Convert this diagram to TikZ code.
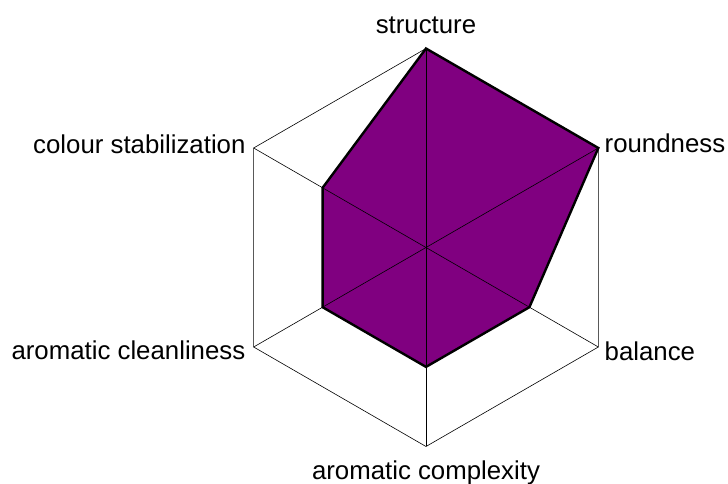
\documentclass[tikz,border=0pt]{standalone}
\usepackage{fontspec}
\setmainfont{Liberation Sans}
\definecolor{wine}{RGB}{128, 0, 128}
\usepackage{tikz}
\usetikzlibrary{calc}

\begin{document}
\begin{tikzpicture}[x=1bp, y=1bp,
    axislabel/.style={inner sep=0pt, font=\fontsize{25.8bp}{31bp}\selectfont},
    grid/.style={line width=0.6bp}]
    \useasboundingbox (-426,-236.5) rectangle (302,247.5);

    % Corners of the outer ring
    \coordinate (O) at (0,0);
    \coordinate (c1) at (90:199);
    \coordinate (c2) at (30:199);
    \coordinate (c3) at (-30:199);
    \coordinate (c4) at (-90:199);
    \coordinate (c5) at (-150:199);
    \coordinate (c6) at (150:199);

    % Scores
    \coordinate (v1) at (90:199);
    \coordinate (v2) at (30:199);
    \coordinate (v3) at (-30:119.4);
    \coordinate (v4) at (-90:119.4);
    \coordinate (v5) at (-150:119.4);
    \coordinate (v6) at (150:119.4);

    % Filled area
    \fill[wine] (v1) -- (v2) -- (v3) -- (v4) -- (v5) -- (v6) -- cycle;

    % Ring and spokes
    \draw[grid] (c1) -- (c2) -- (c3) -- (c4) -- (c5) -- (c6) -- cycle;
    \foreach \i in {1,...,6}
        \draw[grid] (O) -- (c\i);

    % Outline of the scores
    \draw[line width=2.4bp, line join=miter]
        (v1) -- (v2) -- (v3) -- (v4) -- (v5) -- (v6) -- cycle;

    % Labels
    \node[axislabel, anchor=base] (lstructure) at (0,213.5) {structure};
    \node[axislabel, anchor=base west] (lroundness) at (178.5,94.5) {roundness};
    \node[axislabel, anchor=base west] (lbalance) at (178.5,-113.2) {balance};
    \node[axislabel, anchor=base] (lcomplexity) at (0,-231.8) {aromatic complexity};
    \node[axislabel, anchor=base east] (lcleanliness) at (-180.5,-112.5) {aromatic cleanliness};
    \node[axislabel, anchor=base east] (lcolour) at (-180.3,94.2) {colour stabilization};
\end{tikzpicture}
\end{document}
